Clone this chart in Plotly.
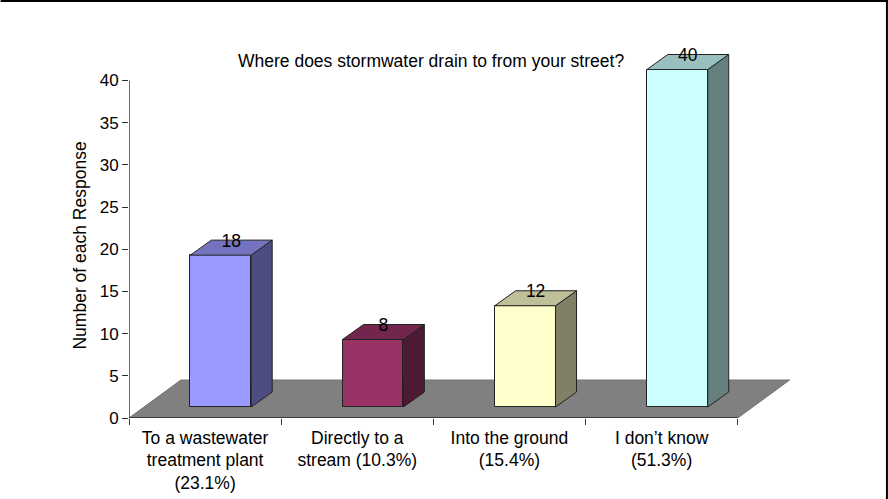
import plotly.graph_objects as go

categories = ["To a wastewater<br>treatment plant<br>(23.1%)", "Directly to a<br>stream (10.3%)",
              "Into the ground<br>(15.4%)", "I don\u2019t know<br>(51.3%)"]
values = [18, 8, 12, 40]
y_ticks = [0, 5, 10, 15, 20, 25, 30, 35, 40]
front_colors = ["#9999FF", "#993366", "#FFFFCC", "#CCFFFF"]
top_colors = ["#7373BF", "#73264D", "#BFBF99", "#99BFBF"]
side_colors = ["#4D4D80", "#4D1A33", "#808066", "#668080"]

FONT = "Liberation Sans, Arial, sans-serif"
FS = 17.5
BAR_W = 0.40
FLOOR_DX, FLOOR_DY = 0.341, 4.5
BASE_DY = 1.30
DEPTH_DX, DEPTH_DY = 0.138, 1.78
LABEL_DROP = 0.25
EDGE = "#222222"

n = len(values)
centers = [i + 0.603 for i in range(n)]
fig = go.Figure()

fig.add_trace(go.Bar(x=centers, y=values, base=BASE_DY, width=BAR_W,
                     marker=dict(color=front_colors, line=dict(color=EDGE, width=1)),
                     hoverinfo="skip", showlegend=False))

for c, v, tc, sc in zip(centers, values, top_colors, side_colors):
    l, r = c - BAR_W / 2, c + BAR_W / 2
    b, t = BASE_DY, BASE_DY + v
    fig.add_trace(go.Scatter(x=[r, r + DEPTH_DX, r + DEPTH_DX, r, r],
                             y=[b, b + DEPTH_DY, t + DEPTH_DY, t, b],
                             mode="lines", fill="toself", fillcolor=sc,
                             line=dict(color=EDGE, width=1), hoverinfo="skip", showlegend=False))
    fig.add_trace(go.Scatter(x=[l, r, r + DEPTH_DX, l + DEPTH_DX, l],
                             y=[t, t, t + DEPTH_DY, t + DEPTH_DY, t],
                             mode="lines", fill="toself", fillcolor=tc,
                             line=dict(color=EDGE, width=1), hoverinfo="skip", showlegend=False))

# front edge of the floor and the value axis
fig.add_trace(go.Scatter(x=[0, n], y=[0, 0], mode="lines", line=dict(color="black", width=1.2),
                         hoverinfo="skip", showlegend=False, cliponaxis=False))
fig.add_trace(go.Scatter(x=[0, 0], y=[0, y_ticks[-1]], mode="lines", line=dict(color="black", width=1.2),
                         hoverinfo="skip", showlegend=False, cliponaxis=False))

fig.add_trace(go.Scatter(x=[c + DEPTH_DX / 2 for c in centers],
                         y=[BASE_DY + v + DEPTH_DY - LABEL_DROP for v in values],
                         mode="text", text=[str(v) for v in values], textposition="middle center",
                         textfont=dict(family=FONT, size=FS, color="black"),
                         hoverinfo="skip", showlegend=False, cliponaxis=False))

fig.add_shape(type="path", layer="below", line=dict(color="#707070", width=1), fillcolor="#808080",
              path=f"M 0 0 L {n} 0 L {n + FLOOR_DX} {FLOOR_DY} L {FLOOR_DX} {FLOOR_DY} Z")

PLOT_W = 671.5
PLOT_H = 398
# picture frame: top and right edges only
fig.add_shape(type="line", xref="paper", yref="paper", x0=-128.5 / PLOT_W, x1=(888 - 128.5) / PLOT_W,
              y0=(418 - 1) / PLOT_H, y1=(418 - 1) / PLOT_H, line=dict(color="black", width=2))
fig.add_shape(type="line", xref="paper", yref="paper", x0=(887 - 128.5) / PLOT_W, x1=(887 - 128.5) / PLOT_W,
              y0=-81 / PLOT_H, y1=418 / PLOT_H, line=dict(color="black", width=2))

fig.update_layout(
    width=888, height=499, margin=dict(l=128.5, r=88, t=20, b=81, autoexpand=False),
    paper_bgcolor="white", plot_bgcolor="white", showlegend=False, bargap=0,
    font=dict(family=FONT, size=FS, color="black"),
    xaxis=dict(range=[0, 672 / 152.4], showgrid=False, zeroline=False, showline=False, automargin=False,
               tickmode="array", tickvals=[i + 0.5 for i in range(n)], ticktext=categories,
               ticks="", tickangle=0, ticklabelstandoff=7,
               minor=dict(tickmode="array", tickvals=list(range(n + 1)), ticks="outside",
                          ticklen=6, tickcolor="#333333", tickwidth=1, showgrid=False)),
    yaxis=dict(range=[0, 398 / 8.4375], showgrid=False, zeroline=False, showline=False, automargin=False,
               tickmode="array", tickvals=y_ticks, ticks="outside", ticklen=6,
               tickcolor="#333333", tickwidth=1, tickfont=dict(size=17)),
    annotations=[
        dict(text="Where does stormwater drain to from your street?", xref="paper", yref="paper",
             x=(431 - 128.5) / PLOT_W, y=(418 - 61) / PLOT_H, showarrow=False,
             xanchor="center", yanchor="middle", font=dict(family=FONT, size=FS, color="black")),
        dict(text="Number of each Response", xref="paper", yref="paper",
             x=(79 - 128.5) / PLOT_W, y=(418 - 246) / PLOT_H, showarrow=False, textangle=-90,
             xanchor="center", yanchor="middle", font=dict(family=FONT, size=FS, color="black")),
    ],
)

fig.write_html("out.html", config={"displayModeBar": False},
               post_script="document.body.style.margin='0';document.body.style.overflow='hidden';")
